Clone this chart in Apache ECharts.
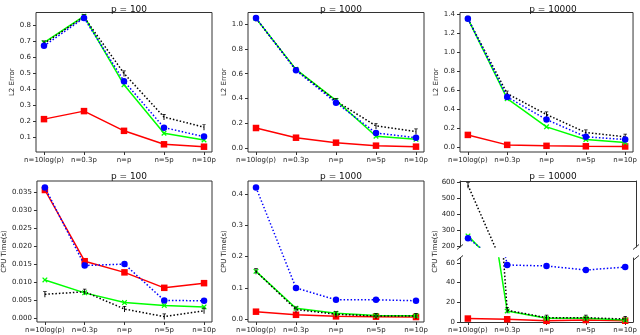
<!DOCTYPE html>
<html>
<head>
<meta charset="utf-8">
<script src="https://cdn.jsdelivr.net/npm/echarts@6/dist/echarts.min.js"></script>
<style>
html, body { margin: 0; padding: 0; background: #fff; }
#chart { width: 640px; height: 335px; }
</style>
</head>
<body>
<div id="chart"></div>
<script>
var categories = ['n=10log(p)', 'n=0.3p', 'n=p', 'n=5p', 'n=10p'];
var panelTitles = ['p = 100', 'p = 1000', 'p = 10000'];

// L2 error, p = 100
var l2Red100 = [0.213, 0.263, 0.14, 0.056, 0.041];
var l2Green100 = [0.69, 0.855, 0.427, 0.125, 0.083];
var l2Blue100 = [0.67, 0.844, 0.45, 0.16, 0.104];
var l2Black100 = [0.685, 0.85, 0.498, 0.226, 0.163];
// L2 error, p = 1000
var l2Red1000 = [0.163, 0.085, 0.045, 0.021, 0.013];
var l2Green1000 = [1.045, 0.635, 0.385, 0.097, 0.072];
var l2Blue1000 = [1.048, 0.627, 0.367, 0.123, 0.085];
var l2Black1000 = [1.045, 0.63, 0.38, 0.18, 0.134];
// L2 error, p = 10000
var l2Red10000 = [0.125, 0.02, 0.01, 0.005, 0.003];
var l2Green10000 = [1.35, 0.507, 0.21, 0.077, 0.046];
var l2Blue10000 = [1.35, 0.525, 0.287, 0.105, 0.077];
var l2Black10000 = [1.35, 0.56, 0.34, 0.15, 0.105];

// CPU time, p = 100
var cpuRed100 = [0.0356, 0.0158, 0.0127, 0.0084, 0.0097];
var cpuGreen100 = [0.0106, 0.007, 0.0043, 0.0035, 0.0031];
var cpuBlue100 = [0.0363, 0.0146, 0.015, 0.0049, 0.0048];
var cpuBlack100 = [0.0066, 0.0073, 0.0025, 0.0004, 0.002];
// CPU time, p = 1000
var cpuRed1000 = [0.024, 0.014, 0.009, 0.008, 0.007];
var cpuGreen1000 = [0.153, 0.035, 0.019, 0.012, 0.011];
var cpuBlue1000 = [0.4215, 0.1, 0.062, 0.062, 0.059];
var cpuBlack1000 = [0.153, 0.031, 0.016, 0.01, 0.01];
// CPU time, p = 10000 (broken axis)
var cpuRed10000 = [3.5, 2.8, 1.2, 2.0, 1.3];
var cpuGreen10000 = [265, 11.2, 3.8, 3.8, 2.0];
var cpuBlue10000 = [251, 57.9, 56.9, 52.8, 55.8];
var cpuBlack10000 = [579, 11.9, 4.4, 4.4, 3.0];

// tick labels
var l2Ticks100 = [0.1, 0.2, 0.3, 0.4, 0.5, 0.6, 0.7, 0.8];
var l2Ticks1000 = [0.0, 0.2, 0.4, 0.6, 0.8, 1.0];
var l2Ticks10000 = [0.0, 0.2, 0.4, 0.6, 0.8, 1.0, 1.2, 1.4];
var cpuTicks100 = [0.0, 0.005, 0.01, 0.015, 0.02, 0.025, 0.03, 0.035];
var cpuTicks1000 = [0.0, 0.1, 0.2, 0.3, 0.4];
var cpuTicksHigh10000 = [200, 300, 400, 500, 600];
var cpuTicksLow10000 = [0, 20, 40, 60];

var FONT = 'DejaVu Sans';
var xIdx = categories.map(function (c, i) { return i; });
var colLeft = [36, 248, 460];
var panelW = 176;

var plusPath = 'path://M-1,-5H1V-1H5V1H1V5H-1V1H-5V-1H-1Z';
var tickPath = 'path://M-0.8,-5H0.8V5H-0.8Z M-3,-5H3V-3.8H-3Z';

var styles = {
    red: { color: '#ff0000', symbol: 'rect', symbolSize: 6.5, type: 'solid', z: 2 },
    green: { color: '#00ff00', symbol: plusPath, symbolSize: 6.5, rotate: 45, type: 'solid', z: 3 },
    black: { color: '#000000', symbol: tickPath, symbolSize: [3.5, 6], type: [1.5, 2], z: 4 },
    blue: { color: '#0000ff', symbol: 'circle', symbolSize: 6.5, type: [1.5, 2], z: 5 }
};

var grids = [], xAxes = [], yAxes = [], series = [], titles = [], graphics = [];

function fmt(dec) {
    return function (v) { return v.toFixed(dec); };
}

function addGrid(o) {
    var gi = grids.length;
    grids.push({
        left: o.left, top: o.top, width: panelW, height: o.height,
        show: o.border, borderColor: '#333', borderWidth: 1,
        backgroundColor: 'transparent', containLabel: false
    });
    xAxes.push({
        type: 'value', gridIndex: gi, min: -0.2, max: 4.2,
        position: o.xLinePos || 'bottom',
        axisLine: { show: !o.border, onZero: false, lineStyle: { color: '#333', width: 1 } },
        splitLine: { show: false },
        axisTick: { show: o.xLabels, length: 3, customValues: xIdx, lineStyle: { color: '#333' } },
        axisLabel: {
            show: o.xLabels, customValues: xIdx, margin: 5, fontSize: 7, color: '#222',
            fontFamily: FONT,
            formatter: function (v) { return categories[Math.round(v)]; }
        }
    });
    var yi = yAxes.length;
    yAxes.push({
        type: 'value', gridIndex: gi, min: o.min, max: o.max,
        axisLine: { show: !o.border, onZero: false, lineStyle: { color: '#333', width: 1 } },
        splitLine: { show: false },
        axisTick: { show: true, length: 3, customValues: o.ticks, lineStyle: { color: '#333' } },
        axisLabel: {
            customValues: o.ticks, margin: 5, fontSize: 7, color: '#222',
            fontFamily: FONT, formatter: fmt(o.dec)
        },
        name: o.name || '', nameLocation: 'middle', nameGap: o.nameGap || 20,
        nameTextStyle: { fontSize: 7, color: '#222', fontFamily: FONT }
    });
    if (!o.border) {
        // right spine for the broken-axis panel
        yAxes.push({
            type: 'value', gridIndex: gi, min: o.min, max: o.max, position: 'right',
            axisLine: { show: true, onZero: false, lineStyle: { color: '#333', width: 1 } },
            splitLine: { show: false }, axisTick: { show: false }, axisLabel: { show: false }
        });
    }
    return { x: gi, y: yi };
}

function addLine(ax, vals, key) {
    var s = styles[key];
    series.push({
        type: 'line', xAxisIndex: ax.x, yAxisIndex: ax.y, z: s.z,
        data: vals.map(function (v, i) { return [i, v]; }),
        symbol: s.symbol, symbolSize: s.symbolSize, symbolRotate: s.rotate || 0,
        showSymbol: true, showAllSymbol: true, clip: true, animation: false,
        itemStyle: { color: s.color, borderWidth: 0 },
        lineStyle: { color: s.color, width: 1.5, type: s.type },
        emphasis: { disabled: true }
    });
}

function addAll(ax, red, green, black, blue) {
    addLine(ax, red, 'red');
    addLine(ax, green, 'green');
    addLine(ax, black, 'black');
    addLine(ax, blue, 'blue');
}

// top row: L2 error
var topTop = 12.5, topH = 139.5;
var a1 = addGrid({ left: colLeft[0], top: topTop, height: topH, min: 0.008, max: 0.878, ticks: l2Ticks100, dec: 1, name: 'L2 Error', nameGap: 19, border: true, xLabels: true });
addAll(a1, l2Red100, l2Green100, l2Black100, l2Blue100);
var a2 = addGrid({ left: colLeft[1], top: topTop, height: topH, min: -0.03, max: 1.0925, ticks: l2Ticks1000, dec: 1, name: 'L2 Error', nameGap: 19, border: true, xLabels: true });
addAll(a2, l2Red1000, l2Green1000, l2Black1000, l2Blue1000);
var a3 = addGrid({ left: colLeft[2], top: topTop, height: topH, min: -0.055, max: 1.415, ticks: l2Ticks10000, dec: 1, name: 'L2 Error', nameGap: 19, border: true, xLabels: true });
addAll(a3, l2Red10000, l2Green10000, l2Black10000, l2Blue10000);

// bottom row: CPU time
var botTop = 181, botH = 141;
var a4 = addGrid({ left: colLeft[0], top: botTop, height: botH, min: -0.0011, max: 0.0381, ticks: cpuTicks100, dec: 3, name: 'CPU Time(s)', nameGap: 26, border: true, xLabels: true });
addAll(a4, cpuRed100, cpuGreen100, cpuBlack100, cpuBlue100);
var a5 = addGrid({ left: colLeft[1], top: botTop, height: botH, min: -0.009, max: 0.442, ticks: cpuTicks1000, dec: 1, name: 'CPU Time(s)', nameGap: 19, border: true, xLabels: true });
addAll(a5, cpuRed1000, cpuGreen1000, cpuBlack1000, cpuBlue1000);

// broken axis: upper and lower parts
var hiTop = botTop, hiH = 66, loTop = 258, loH = botTop + botH - loTop;
var a6 = addGrid({ left: colLeft[2], top: hiTop, height: hiH, min: 196, max: 606, ticks: cpuTicksHigh10000, dec: 0, border: false, xLabels: false, xLinePos: 'top' });
addAll(a6, cpuRed10000, cpuGreen10000, cpuBlack10000, cpuBlue10000);
var a7 = addGrid({ left: colLeft[2], top: loTop, height: loH, min: 0, max: 65, ticks: cpuTicksLow10000, dec: 0, border: false, xLabels: true });
addAll(a7, cpuRed10000, cpuGreen10000, cpuBlack10000, cpuBlue10000);

// titles
panelTitles.forEach(function (t, i) {
    [topTop - 12.5, botTop - 13.5].forEach(function (y) {
        titles.push({
            text: t, left: colLeft[i] + panelW / 2, top: y, textAlign: 'center',
            textStyle: { fontSize: 9, fontWeight: 'normal', color: '#111', fontFamily: FONT }
        });
    });
});

// y title of broken panel, centred across both parts
graphics.push({
    type: 'text', x: 435, y: (hiTop + botTop + botH) / 2, rotation: Math.PI / 2,
    style: { text: 'CPU Time(s)', fontSize: 7, fill: '#222', fontFamily: FONT, align: 'center', verticalAlign: 'middle' }
});
// break marks
[colLeft[2], colLeft[2] + panelW].forEach(function (x) {
    [hiTop + hiH, loTop].forEach(function (y) {
        graphics.push({
            type: 'line', shape: { x1: x - 3, y1: y + 2.5, x2: x + 3, y2: y - 2.5 },
            style: { stroke: '#333', lineWidth: 1 }
        });
    });
});

var chart = echarts.init(document.getElementById('chart'), null, { renderer: 'canvas' });
chart.setOption({
    animation: false,
    title: titles,
    grid: grids,
    xAxis: xAxes,
    yAxis: yAxes,
    series: series,
    graphic: graphics
});
</script>
</body>
</html>
